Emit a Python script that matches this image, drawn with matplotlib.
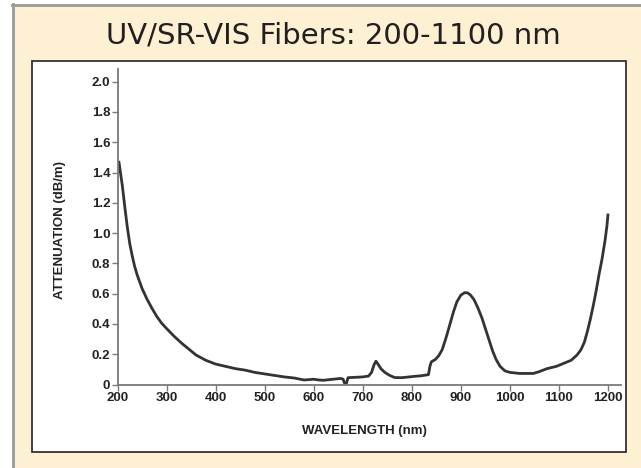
import matplotlib
matplotlib.use("Agg")
import matplotlib.pyplot as plt
from matplotlib.patches import Rectangle
from matplotlib.lines import Line2D

# Data
wavelength = [200, 203, 206, 210, 215, 220, 225, 230, 235, 240, 250, 260, 270, 280, 290,
              300, 315, 330, 345, 360, 380, 400, 420, 440, 460, 480, 500, 520, 540,
              560, 580, 590, 600, 610, 620, 640, 655, 660, 663, 667, 670,
              700, 712, 718, 723, 727, 731, 737, 745, 755, 765, 780, 800, 820, 834,
              837, 840, 848, 855, 862, 870, 878, 885, 892, 900, 908, 914, 920, 927,
              935, 943, 950, 958, 965, 972, 980, 990, 1000, 1020, 1048, 1060, 1076,
              1095, 1110, 1125, 1137, 1145, 1152, 1158, 1164, 1170, 1176, 1182, 1188,
              1194, 1198, 1200]
attenuation = [1.47, 1.47, 1.40, 1.31, 1.17, 1.04, 0.93, 0.85, 0.78, 0.725, 0.635, 0.565,
               0.505, 0.45, 0.405, 0.37, 0.32, 0.275, 0.235, 0.195, 0.16, 0.135, 0.12,
               0.105, 0.095, 0.08, 0.07, 0.06, 0.05, 0.043, 0.03, 0.032, 0.035, 0.03,
               0.028, 0.035, 0.04, 0.035, 0.008, 0.01, 0.045,
               0.05, 0.056, 0.08, 0.13, 0.154, 0.135, 0.105, 0.08, 0.06, 0.046, 0.045,
               0.052, 0.058, 0.065, 0.12, 0.15, 0.165, 0.19, 0.23, 0.31, 0.40, 0.48,
               0.546, 0.59, 0.607, 0.605, 0.59, 0.56, 0.505, 0.44, 0.37, 0.29, 0.22,
               0.165, 0.12, 0.09, 0.08, 0.073, 0.073, 0.085, 0.105, 0.12, 0.14, 0.16,
               0.195, 0.23, 0.28, 0.35, 0.43, 0.52, 0.62, 0.73, 0.83, 0.95, 1.05, 1.12]
x_ticks = [200, 300, 400, 500, 600, 700, 800, 900, 1000, 1100, 1200]
y_ticks = [0, 0.2, 0.4, 0.6, 0.8, 1.0, 1.2, 1.4, 1.6, 1.8, 2.0]
y_tick_labels = ["0", "0.2", "0.4", "0.6", "0.8", "1.0", "1.2", "1.4", "1.6", "1.8", "2.0"]
title = "UV/SR-VIS Fibers: 200-1100 nm"
x_label = "WAVELENGTH (nm)"
y_label = "ATTENUATION (dB/m)"

W, H = 641, 468
fig = plt.figure(figsize=(W / 100, H / 100), dpi=100)
fig.patch.set_facecolor("white")

def fx(px):
    return px / W

def fy(py):
    return 1 - py / H

beige = "#FEF1D3"
# beige panel
fig.patches.append(Rectangle((fx(13), 0), 1 - fx(13), fy(5), transform=fig.transFigure,
                             facecolor=beige, edgecolor="none", zorder=0))
# gray inset borders (top and left)
fig.lines.append(Line2D([fx(13), fx(13)], [0, fy(4)], transform=fig.transFigure,
                        color="#9a9a9a", lw=2, zorder=1))
fig.lines.append(Line2D([fx(12), 1], [fy(4.5), fy(4.5)], transform=fig.transFigure,
                        color="#9a9a9a", lw=2, zorder=1))
# white inner box
fig.patches.append(Rectangle((fx(32), fy(452)), fx(626) - fx(32), fy(61) - fy(452),
                             transform=fig.transFigure, facecolor="white",
                             edgecolor="#333333", lw=1.3, zorder=1))

fig.text(fx(333), fy(35), title, ha="center", va="center", fontsize=21,
         family="DejaVu Sans", color="#231F20", zorder=3)

ax = fig.add_axes([fx(117.5), fy(384.5), fx(620.7) - fx(117.5), fy(69) - fy(384.5)])
ax.set_zorder(5)
ax.set_facecolor("none")
ax.plot(wavelength, attenuation, color="#333333", lw=2.0, solid_joinstyle="round")
ax.set_xlim(200, 1226)
ax.set_ylim(0, 2.084)
for s in ["top", "right"]:
    ax.spines[s].set_visible(False)
for s in ["left", "bottom"]:
    ax.spines[s].set_color("#7a7a7a")
    ax.spines[s].set_linewidth(1.3)
ax.set_xticks(x_ticks)
ax.set_yticks(y_ticks)
ax.set_yticklabels(y_tick_labels)
ax.tick_params(axis="both", colors="#7a7a7a", length=4, width=1, labelcolor="#222222",
               labelsize=9.5, pad=1.2)
for lab in ax.get_xticklabels() + ax.get_yticklabels():
    lab.set_fontweight("bold")
    lab.set_family("Liberation Sans")

fig.text(fx(364), fy(431), x_label, ha="center", va="center", fontsize=9.5,
         fontweight="bold", family="Liberation Sans", color="#222222", zorder=3)
fig.text(fx(60), fy(230), y_label, ha="center", va="center", fontsize=9.5,
         fontweight="bold", family="Liberation Sans", color="#222222", rotation=90,
         zorder=3)

fig.savefig("out.png", dpi=100)
